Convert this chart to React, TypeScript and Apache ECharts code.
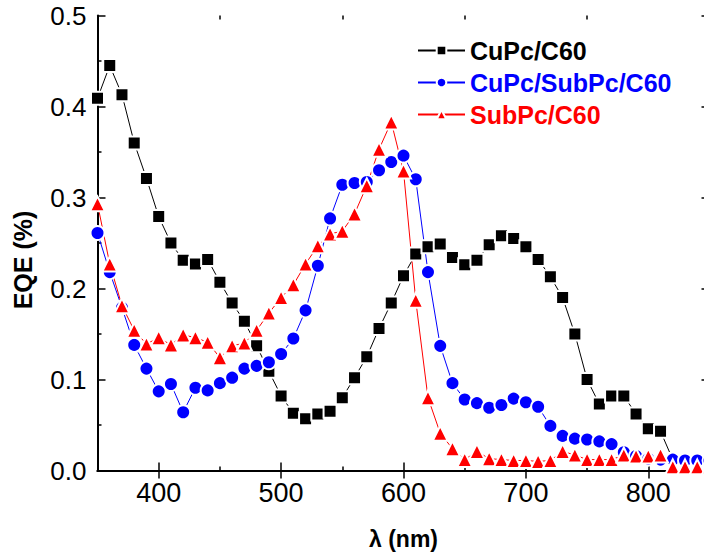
import React, { useEffect, useRef } from 'react';
import * as echarts from 'echarts';

const wavelengths = [
  350, 360, 370, 380, 390, 400, 410, 420, 430, 440,
  450, 460, 470, 480, 490, 500, 510, 520, 530, 540,
  550, 560, 570, 580, 590, 600, 610, 620, 630, 640,
  650, 660, 670, 680, 690, 700, 710, 720, 730, 740,
  750, 760, 770, 780, 790, 800, 810, 820, 830, 840, 850,
];

const cupcC60 = [
  0.409, 0.445, 0.413, 0.360, 0.321, 0.279, 0.250, 0.231, 0.227, 0.232,
  0.207, 0.184, 0.164, 0.137, 0.109, 0.082, 0.063, 0.057, 0.062, 0.065,
  0.080, 0.102, 0.125, 0.156, 0.184, 0.214, 0.238, 0.246, 0.249, 0.234,
  0.226, 0.231, 0.248, 0.258, 0.255, 0.246, 0.232, 0.213, 0.190, 0.150,
  0.100, 0.073, 0.082, 0.082, 0.062, 0.046, 0.043, 0.012, 0.011, 0.011, 0.011,
];

const cupcSubpcC60 = [
  0.261, 0.218, 0.179, 0.138, 0.112, 0.087, 0.095, 0.064, 0.091, 0.088,
  0.096, 0.102, 0.112, 0.115, 0.119, 0.128, 0.145, 0.176, 0.225, 0.277,
  0.314, 0.316, 0.317, 0.330, 0.339, 0.346, 0.320, 0.218, 0.137, 0.096,
  0.078, 0.074, 0.069, 0.072, 0.079, 0.075, 0.070, 0.049, 0.038, 0.035,
  0.034, 0.032, 0.029, 0.020, 0.016, 0.013, 0.012, 0.012, 0.011, 0.011, 0.011,
];

const subpcC60 = [
  0.293, 0.227, 0.181, 0.154, 0.139, 0.146, 0.138, 0.149, 0.146, 0.141,
  0.124, 0.137, 0.140, 0.154, 0.173, 0.190, 0.204, 0.227, 0.247, 0.260,
  0.263, 0.282, 0.313, 0.353, 0.383, 0.329, 0.187, 0.080, 0.041, 0.024,
  0.012, 0.021, 0.013, 0.012, 0.011, 0.011, 0.010, 0.011, 0.021, 0.017,
  0.012, 0.012, 0.012, 0.017, 0.016, 0.016, 0.017, 0.004, 0.004, 0.004, 0.004,
];

const xMajorTicks = [400, 500, 600, 700, 800];
const xMinorTicks = [450, 550, 650, 750];

export default function App() {
  const ref = useRef<HTMLDivElement>(null);

  useEffect(() => {
    if (!ref.current) return;
    const chart = echarts.init(ref.current, null, { renderer: 'svg' });
    const font = '"Liberation Sans", Arial, sans-serif';
    const rect = {
      left: 97.5, top: 15.5, width: 612, height: 455,
      containLabel: false, outerBoundsMode: 'none',
    };
    const axisLine = { show: true, lineStyle: { color: '#000', width: 2 } };
    const tickLine = { color: '#000', width: 1.5 };
    const mk = (ys: number[]) => wavelengths.map((x, i) => [x, ys[i]]);

    const option: any = {
      animation: false,
      backgroundColor: '#fff',
      grid: [{ ...rect }, { ...rect }],
      xAxis: [
        {
          type: 'value', gridIndex: 0, position: 'bottom', min: 350, max: 850,
          axisLine,
          axisTick: { show: true, inside: true, length: 8, customValues: xMajorTicks, lineStyle: tickLine },
          axisLabel: { customValues: xMajorTicks, fontSize: 27, color: '#000', fontFamily: font, margin: 9 },
          splitLine: { show: false },
          name: 'λ (nm)', nameLocation: 'middle', nameGap: 57,
          nameTextStyle: { fontSize: 23, fontWeight: 'bold', fontFamily: font, color: '#000' },
        },
        {
          type: 'value', gridIndex: 0, position: 'top', min: 350, max: 850,
          axisLine,
          axisTick: { show: true, inside: true, length: 8, customValues: xMajorTicks, lineStyle: tickLine },
          axisLabel: { show: false },
          splitLine: { show: false },
        },
        {
          type: 'value', gridIndex: 1, position: 'bottom', min: 350, max: 850,
          axisLine: { show: false },
          axisTick: { show: true, inside: true, length: 4, customValues: xMinorTicks, lineStyle: tickLine },
          axisLabel: { show: false },
          splitLine: { show: false },
        },
        {
          type: 'value', gridIndex: 1, position: 'top', min: 350, max: 850,
          axisLine: { show: false },
          axisTick: { show: true, inside: true, length: 4, customValues: xMinorTicks, lineStyle: tickLine },
          axisLabel: { show: false },
          splitLine: { show: false },
        },
      ],
      yAxis: [
        {
          type: 'value', gridIndex: 0, position: 'left', min: 0, max: 0.5, interval: 0.1,
          axisLine,
          axisTick: { show: true, inside: true, length: 8, lineStyle: tickLine },
          minorTick: { show: true, splitNumber: 2, length: 4, lineStyle: tickLine },
          axisLabel: {
            formatter: (v: number) => v.toFixed(1),
            fontSize: 26, color: '#000', fontFamily: font, margin: 11,
          },
          splitLine: { show: false },
          minorSplitLine: { show: false },
        },
        {
          type: 'value', gridIndex: 0, position: 'right', min: 0, max: 0.5, interval: 0.1,
          axisLine,
          axisTick: { show: true, inside: true, length: 8, lineStyle: tickLine },
          minorTick: { show: true, splitNumber: 2, length: 4, lineStyle: tickLine },
          axisLabel: { show: false },
          splitLine: { show: false },
          minorSplitLine: { show: false },
        },
        { type: 'value', gridIndex: 1, min: 0, max: 0.5, show: false },
      ],
      legend: {
        orient: 'vertical', left: 412, top: 33, padding: 5,
        itemWidth: 47, itemHeight: 12, itemGap: 7,
        textStyle: { fontSize: 25, fontWeight: 'bold', fontFamily: font },
        data: [
          { name: 'CuPc/C60', textStyle: { color: '#000000' } },
          { name: 'CuPc/SubPc/C60', textStyle: { color: '#0000ff' } },
          { name: 'SubPc/C60', textStyle: { color: '#ff0000' } },
        ],
      },
      graphic: [
        {
          type: 'text', x: 23, y: 260, rotation: Math.PI / 2,
          style: {
            text: 'EQE (%)', fontSize: 25, fontWeight: 'bold', fontFamily: font,
            fill: '#000', align: 'center', verticalAlign: 'middle',
          },
        },
      ],
      series: [
        {
          name: 'CuPc/C60', type: 'line', data: mk(cupcC60),
          symbol: 'rect', symbolSize: 13,
          lineStyle: { color: '#000000', width: 1 },
          itemStyle: { color: '#000000', borderColor: '#ffffff', borderWidth: 2 },
        },
        {
          name: 'CuPc/SubPc/C60', type: 'line', data: mk(cupcSubpcC60),
          symbol: 'circle', symbolSize: 14,
          lineStyle: { color: '#0000ff', width: 1 },
          itemStyle: { color: '#0000ff', borderColor: '#ffffff', borderWidth: 2 },
        },
        {
          name: 'SubPc/C60', type: 'line', data: mk(subpcC60),
          symbol: 'triangle', symbolSize: 15,
          lineStyle: { color: '#ff0000', width: 1 },
          itemStyle: { color: '#ff0000', borderColor: '#ffffff', borderWidth: 2 },
        },
      ],
    };

    chart.setOption(option);
    return () => chart.dispose();
  }, []);

  return (
    <div
      ref={ref}
      style={{ position: 'absolute', left: 0, top: 0, width: 704, height: 556, background: '#fff' }}
    />
  );
}
